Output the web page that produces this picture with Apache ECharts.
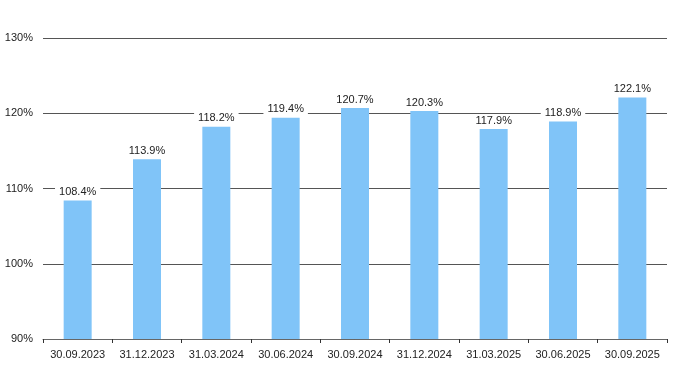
<!DOCTYPE html>
<html><head><meta charset="utf-8">
<script src="https://cdn.jsdelivr.net/npm/echarts@6/dist/echarts.min.js"></script>
<style>html,body{margin:0;padding:0;background:#fff}#c{width:676px;height:380px}</style>
</head><body><div id="c"></div>
<script>
const categories = ['30.09.2023','31.12.2023','31.03.2024','30.06.2024','30.09.2024','31.12.2024','31.03.2025','30.06.2025','30.09.2025'];
const values = [108.4, 113.9, 118.2, 119.4, 120.7, 120.3, 117.9, 118.9, 122.1];
const chart = echarts.init(document.getElementById('c'), null, {renderer:'canvas'});
chart.setOption({
  animation:false,
  grid:{left:43,right:9,top:38,bottom:41,containLabel:false},
  xAxis:{type:'category',data:categories,
    axisLine:{lineStyle:{color:'#666',width:1}},
    axisTick:{show:true,interval:0,length:4,lineStyle:{color:'#333'}},
    axisLabel:{interval:0,color:'#222',fontSize:11,fontFamily:'Liberation Sans, Arial, sans-serif',margin:10}},
  yAxis:{type:'value',min:90,max:130,interval:10,
    axisLine:{show:false},axisTick:{show:false},
    splitLine:{lineStyle:{color:'#555',width:1}},
    axisLabel:{formatter:'{value}%',color:'#222',fontSize:11,fontFamily:'Liberation Sans, Arial, sans-serif',margin:10}},
  series:[{type:'bar',data:values,barWidth:28,
    itemStyle:{color:'#80C4F8'},
    label:{show:true,position:'top',formatter:p=>p.value.toFixed(1)+'%',color:'#222',fontSize:11,fontFamily:'Liberation Sans, Arial, sans-serif',distance:2,
      backgroundColor:'#fff',padding:[1,4,1,4]}}]
});
</script></body></html>
